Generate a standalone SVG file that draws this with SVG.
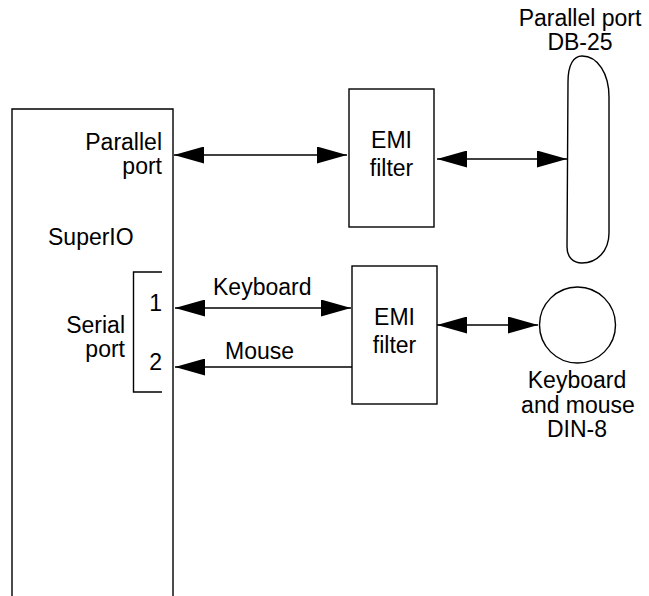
<svg xmlns="http://www.w3.org/2000/svg" width="649" height="596" viewBox="0 0 649 596">
<style>
  .ln { fill: none; stroke: #000; stroke-width: 1.4; }
  .bx { fill: #fff; stroke: #000; stroke-width: 1.4; }
  text { font-family: "Liberation Sans", Arial, sans-serif; font-size: 23px; fill: #000; }
  .r { text-anchor: end; }
  .m { text-anchor: middle; }
</style>
<defs>
  <marker id="ah" markerUnits="userSpaceOnUse" markerWidth="30" markerHeight="17" refX="30" refY="8.5" orient="auto-start-reverse" viewBox="0 0 30 17">
    <path d="M0,0 L30,8.5 L0,17 Z" fill="#000"/>
  </marker>
</defs>

<g id="superio">
  <path class="ln" d="M12,600 V109 H173 V600"/>
  <text class="r" x="162" y="150">Parallel</text>
  <text class="r" x="162" y="174">port</text>
  <text x="48" y="245">SuperIO</text>
  <path class="ln" d="M162,272 H133.5 V392 H162"/>
  <text class="r" x="125" y="333">Serial</text>
  <text class="r" x="125" y="357">port</text>
  <text class="r" x="162" y="311">1</text>
  <text class="r" x="162" y="370">2</text>
</g>

<g id="emi1">
  <rect class="bx" x="349" y="89" width="85" height="138"/>
  <text class="m" x="391.5" y="148">EMI</text>
  <text class="m" x="391.5" y="176">filter</text>
</g>

<g id="emi2">
  <rect class="bx" x="352" y="266" width="85" height="138"/>
  <text class="m" x="394.5" y="325">EMI</text>
  <text class="m" x="394.5" y="353">filter</text>
</g>

<g id="db25">
  <path class="ln" d="M568,82 C568,64 574,56 582,56 C598,56 609,74 609,97 L609,233 C609,251 597,263 582,263 C573,263 567,257 567,247 Z"/>
  <text class="m" x="580" y="26">Parallel port</text>
  <text class="m" x="580" y="50">DB-25</text>
</g>

<g id="din8">
  <circle class="ln" cx="577.5" cy="325" r="38"/>
  <text class="m" x="577" y="388">Keyboard</text>
  <text class="m" x="578" y="413">and mouse</text>
  <text class="m" x="577" y="437">DIN-8</text>
</g>

<g id="connectors">
  <line class="ln" x1="174" y1="155" x2="347" y2="155" marker-start="url(#ah)" marker-end="url(#ah)"/>
  <line class="ln" x1="437" y1="159" x2="567" y2="159" marker-start="url(#ah)" marker-end="url(#ah)"/>
  <line class="ln" x1="175" y1="308" x2="351" y2="308" marker-start="url(#ah)" marker-end="url(#ah)"/>
  <text x="213" y="295">Keyboard</text>
  <line class="ln" x1="352" y1="367" x2="175" y2="367" marker-end="url(#ah)"/>
  <text x="225" y="359">Mouse</text>
  <line class="ln" x1="437" y1="325" x2="538" y2="325" marker-start="url(#ah)" marker-end="url(#ah)"/>
</g>
</svg>
